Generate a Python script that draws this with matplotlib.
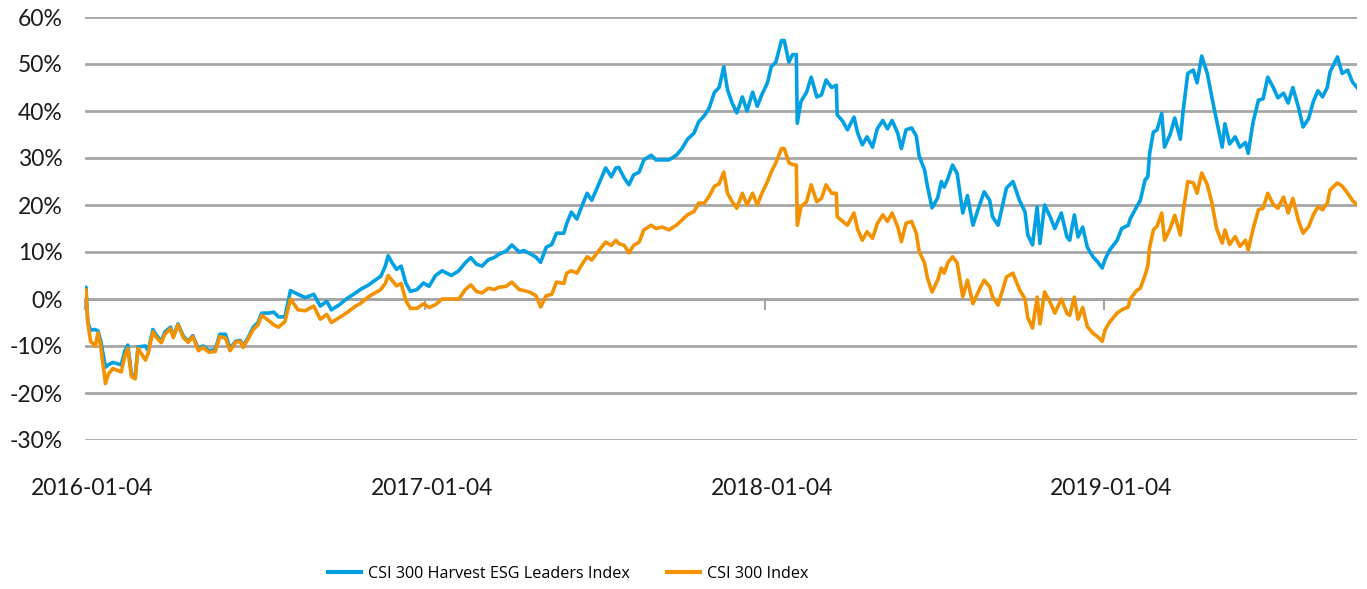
import pandas as pd
import matplotlib
matplotlib.use("Agg")
import matplotlib.pyplot as plt
from matplotlib.ticker import FuncFormatter, MultipleLocator
from matplotlib.transforms import blended_transform_factory, offset_copy

# calendar days after 2016-01-04
day_offset = [
    0, 1, 3, 6, 11, 14, 17, 22, 25, 30, 39, 43, 46, 50, 54, 57, 65, 68, 73, 76,
    82, 86, 92, 95, 100, 106, 111, 116, 122, 127, 133, 140, 145, 151, 156, 162, 167, 170, 176, 181,
    186, 190, 197, 203, 208, 215, 221, 229, 237, 246, 253, 260, 265, 273, 281, 291, 296, 305, 312, 318,
    323, 326, 330, 335, 340, 345, 350, 357, 364, 370, 377, 384, 394, 402, 409, 415, 421, 427, 434, 440,
    445, 453, 459, 467, 472, 479, 485, 490, 496, 502, 507, 515, 518, 523, 529, 534, 540, 545, 553, 560,
    566, 571, 574, 580, 585, 590, 596, 601, 609, 614, 621, 628, 636, 642, 648, 655, 660, 666, 671, 677,
    682, 687, 691, 696, 701, 707, 712, 718, 723, 728, 734, 738, 743, 749, 752, 757, 761, 765, 766, 770,
    776, 781, 787, 792, 797, 803, 808, 809, 815, 820, 827, 831, 836, 841, 847, 852, 858, 863, 868, 874,
    878, 883, 889, 894, 897, 903, 906, 911, 917, 921, 924, 928, 933, 938, 944, 949, 955, 962, 967, 973,
    976, 982, 991, 998, 1005, 1011, 1014, 1019, 1024, 1027, 1032, 1038, 1043, 1050, 1056, 1059, 1064, 1068, 1073, 1078,
    1084, 1089, 1094, 1097, 1102, 1110, 1115, 1122, 1124, 1131, 1135, 1140, 1143, 1145, 1149, 1153, 1158, 1161, 1167, 1172,
    1178, 1181, 1186, 1192, 1196, 1201, 1207, 1212, 1217, 1223, 1226, 1231, 1237, 1242, 1248, 1251, 1256, 1262, 1267, 1272,
    1278, 1283, 1289, 1294, 1299, 1305, 1310, 1316, 1321, 1326, 1331, 1336, 1339, 1347, 1352, 1358, 1363, 1368,
]

esg_leaders = [
    0, 2.5, -5, -6.6, -6.5, -6.8, -9, -14.5, -14, -13.5, -14, -11, -9.8, -16, -16.5, -10.2, -10, -11, -6.5, -7.5,
    -9, -7, -6, -8, -5.3, -8, -9, -7.8, -10.7, -10, -11, -10.8, -7.5, -7.5, -10.5, -9, -8.8, -10, -8, -6,
    -5, -3, -3, -2.8, -3.8, -3.8, 1.8, 1, 0.3, 1, -1.5, -0.5, -2.3, -1.3, 0, 1.3, 2, 3, 4, 4.8,
    7, 9.2, 7.8, 6.3, 7, 3.4, 1.6, 2, 3.4, 2.7, 5, 6, 5, 6, 7.7, 8.8, 7.4, 7, 8.4, 8.8,
    9.5, 10.2, 11.5, 10, 10.3, 9.6, 8.9, 7.8, 11, 11.6, 14, 14, 16, 18.5, 17, 19.6, 22.5, 21, 24.7, 27.9,
    26, 27.9, 28, 25.7, 24.3, 26.4, 27, 29.6, 30.6, 29.6, 29.6, 29.6, 30.6, 32, 34, 35.3, 37.7, 39, 40.5, 44,
    45, 49.4, 44.5, 41.7, 39.6, 43, 40, 44, 41, 43.5, 46, 49.4, 50.4, 55, 55, 50.4, 52, 52, 37.4, 42,
    44, 47.2, 43, 43.4, 46.6, 45, 45.5, 39.2, 37.8, 36, 38.7, 35.3, 32.8, 34.5, 32.3, 36.2, 38, 36.2, 38, 35.3,
    32, 36, 36.4, 34.7, 30.5, 27.4, 24, 19.4, 21.5, 25, 23.8, 25.6, 28.5, 26.7, 18.3, 22, 15.7, 20, 22.8, 21,
    17.5, 15.7, 23.6, 25, 21, 18.5, 13.6, 11.5, 19.6, 11.8, 20, 17.5, 15, 18.3, 13.2, 12.5, 17.9, 13.2, 15.3, 11,
    9, 7.9, 6.6, 8.4, 10.4, 12.5, 15, 15.7, 17, 19.6, 21, 25.3, 26, 31, 35.5, 36, 39.5, 32.3, 35, 38.5,
    34, 40, 48, 48.7, 46, 51.7, 48, 42.8, 38, 32.3, 37.3, 33, 34.5, 32.3, 33.3, 31, 37.4, 42.3, 42.6, 47.2,
    45, 42.8, 43.8, 41.7, 45, 40.8, 36.6, 38.4, 42, 44.3, 43, 45, 48.3, 51.5, 48, 48.7, 46.2, 45,
]

csi300 = [
    0, 2.0, -5, -9, -10, -7.2, -10.2, -18, -16, -14.8, -15.5, -12, -10.5, -16.5, -17, -10.5, -13, -11.5, -7, -8,
    -9.3, -7.5, -6.3, -8.2, -5.5, -8.3, -9.2, -8, -11, -10.3, -11.3, -11.2, -8, -8.3, -11, -9.2, -9, -10.3, -8.3, -6.5,
    -5.5, -3.5, -4.5, -5.5, -6, -4.8, 0, -2.3, -2.5, -1.5, -4.3, -3.3, -5, -4, -3, -1.5, -1, 0.5, 1.3, 2,
    3.3, 5, 4, 2.8, 3.3, -0.3, -2, -2, -1, -1.8, -1.2, 0, 0, 0, 2, 3, 1.6, 1.3, 2.3, 2,
    2.5, 2.7, 3.6, 2, 1.8, 1.4, 0.7, -1.7, 0.7, 1, 3.6, 3.3, 5.5, 6, 5.5, 7.2, 9, 8.3, 10.4, 12.1,
    11.4, 12.5, 11.8, 11.4, 9.8, 11.4, 12.1, 14.7, 15.7, 15, 15.3, 14.7, 15.7, 16.8, 17.9, 18.6, 20.4, 20.4, 21.8, 24,
    24.5, 27, 22.5, 20.7, 19.3, 22.5, 20, 22.5, 20, 22.5, 25, 27, 29, 32, 32, 29, 28.6, 28.5, 15.7, 19.6,
    20.7, 24.3, 20.7, 21.4, 24.3, 22.5, 22.5, 17.5, 16.5, 15.7, 18.3, 14.8, 12.5, 14.3, 12.9, 16, 17.9, 16.5, 18.3, 15.4,
    12.2, 16.1, 16.5, 14, 10.2, 7.6, 4.5, 1.5, 4, 6.6, 5.5, 7.7, 9, 7.7, 0.5, 4, -1, 2.1, 4, 2.6,
    0.5, -1.3, 4.7, 5.5, 2, 0, -4, -6.2, 0.4, -5.3, 1.5, -0.7, -3, 0, -3, -3.5, 0.4, -4.3, -1.8, -5.9,
    -7.3, -8, -9, -6.6, -4.9, -3, -2.3, -1.7, 0, 1.8, 2.3, 5, 7, 11, 14.7, 15.5, 18.3, 12.5, 15, 17.8,
    13.6, 18.5, 25, 24.7, 22.5, 26.8, 24.3, 20.4, 15, 11.9, 14.7, 11.6, 13.3, 11.2, 12.5, 10.4, 14.7, 19, 19.3, 22.5,
    20.1, 19.3, 21.7, 18.3, 21.4, 16.7, 14, 15.4, 17.9, 19.6, 19, 20.4, 23.2, 24.7, 24, 22.5, 21, 20,
]

tick_dates = ["2016-01-04", "2017-01-04", "2018-01-04", "2019-01-04"]
series_names = ["CSI 300 Harvest ESG Leaders Index", "CSI 300 Index"]
colors = ["#00A0E2", "#F39200"]
grid_col = "#A6A6A6"

start = pd.Timestamp("2016-01-04")
dates = start + pd.to_timedelta(day_offset, unit="D")

fig = plt.figure(figsize=(13.67, 5.89), dpi=100)
ax = fig.add_axes([85 / 1367, 1 - 440 / 589, (1357 - 85) / 1367, (440 - 17) / 589])

ax.plot(dates, esg_leaders, color=colors[0], lw=2.6, label=series_names[0], solid_joinstyle="round", zorder=3)
ax.plot(dates, csi300, color=colors[1], lw=2.6, label=series_names[1], solid_joinstyle="round", zorder=4)

ax.set_ylim(-30, 60)
ax.set_xlim(dates[0], dates[-1])
ax.yaxis.set_major_locator(MultipleLocator(10))
ax.yaxis.set_major_formatter(FuncFormatter(lambda v, p: f"{v:.0f}%"))
ax.grid(axis="y", color=grid_col, lw=2)
ax.set_axisbelow(True)

for s in ["top", "right", "left"]:
    ax.spines[s].set_visible(False)
ax.spines["bottom"].set_position(("data", 0))
ax.spines["bottom"].set_color(grid_col)
ax.spines["bottom"].set_linewidth(2)

ticks = pd.to_datetime(tick_dates)
ax.set_xticks(ticks)
ax.tick_params(axis="x", direction="out", length=8, width=1.5, color=grid_col, labelbottom=False)
ax.tick_params(axis="y", length=0, pad=16, labelsize=16.5, labelcolor="#1a1a1a")
for lbl in ax.get_yticklabels():
    lbl.set_family("Lato")

# date labels sit well below the plot, not on the zero axis
trans = offset_copy(blended_transform_factory(ax.transData, ax.transAxes), fig=fig, x=7, y=0, units="dots")
for t, txt in zip(ticks, tick_dates):
    ax.text(t, -0.115, txt, transform=trans, ha="center", va="center",
            fontsize=16.5, family="Lato", color="#1a1a1a")

handles, labels = ax.get_legend_handles_labels()
leg = fig.legend(handles, labels, loc="center", bbox_to_anchor=(568 / 1367, 1 - 574 / 589),
                 ncol=2, frameon=False, handlelength=2.05, handletextpad=0.43, columnspacing=2.3,
                 prop={"family": "Open Sans", "size": 11.6})
for line in leg.get_lines():
    line.set_linewidth(3)

fig.savefig("out.png", dpi=100)
